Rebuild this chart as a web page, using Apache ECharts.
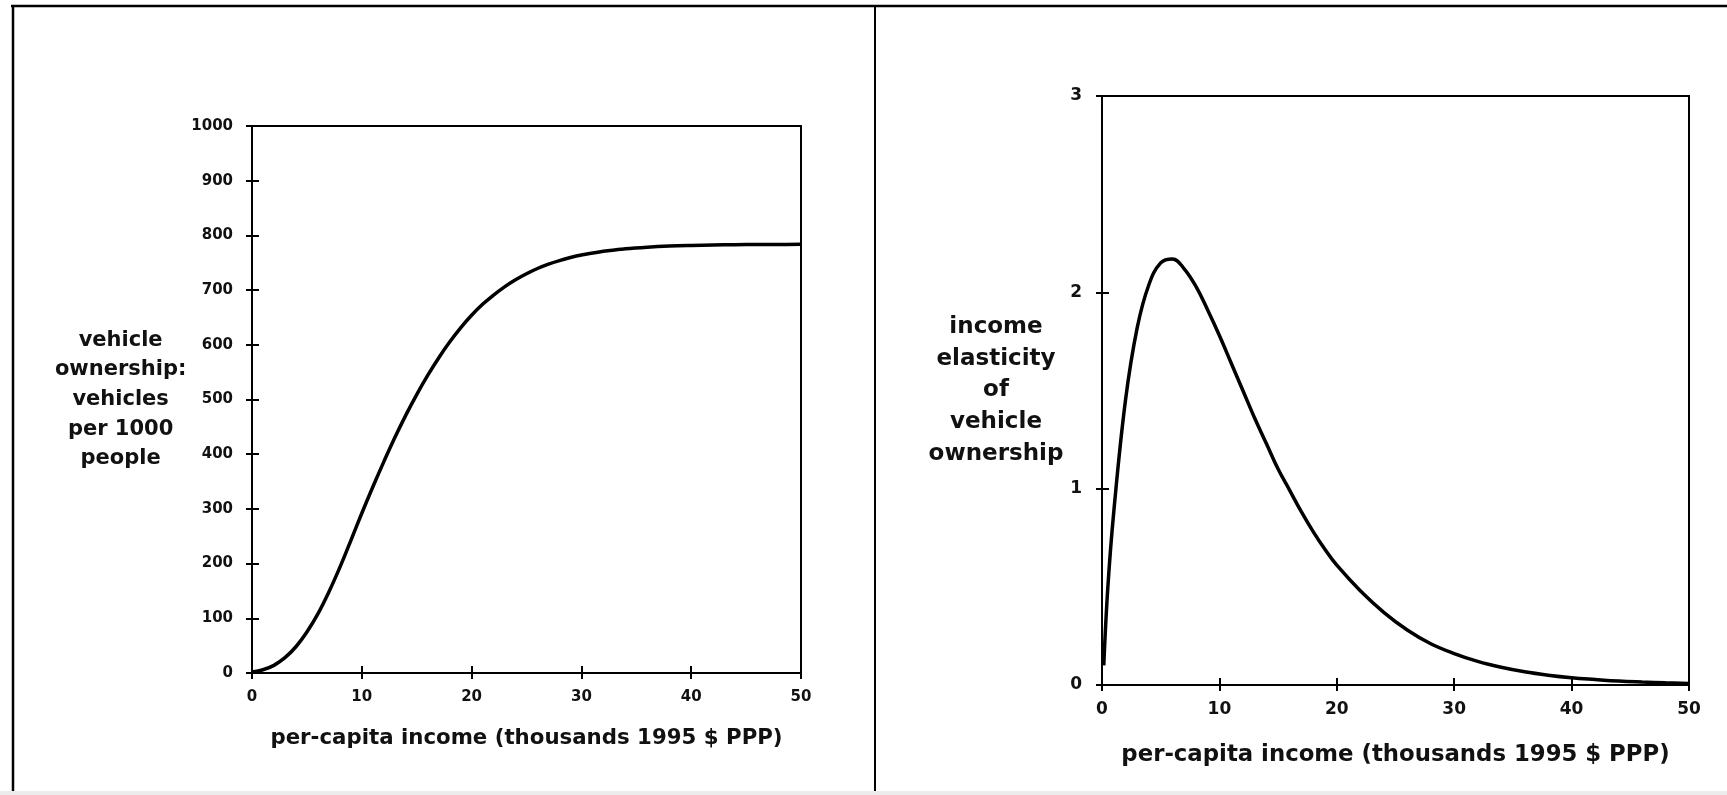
<!DOCTYPE html>
<html>
<head>
<meta charset="utf-8">
<title>vehicle ownership and income elasticity</title>
<script src="https://cdn.jsdelivr.net/npm/echarts@6.0.0/dist/echarts.min.js"></script>
<style>
  html, body { margin: 0; padding: 0; background: #fff; }
  #main { width: 1727px; height: 795px; }
</style>
</head>
<body>
<div id="main"></div>
<script>
// left panel: vehicles per 1000 people vs income
const ownIncome = [0, 1, 2, 3, 4, 5, 6, 7, 8, 9, 10, 11, 12, 13, 14, 15, 16, 17, 18, 19, 20,
  21, 22, 23, 24, 25, 26, 27, 28, 29, 30, 32, 34, 36, 38, 40, 42, 44, 46, 48, 50]
const vehiclesPer1000 = [2, 6, 14, 28, 48, 75, 108, 148, 193, 242, 292, 340, 386, 430, 471, 509, 544, 576, 605, 631, 654,
  674, 691, 706, 719, 730, 739.5, 747.5, 754, 759.5, 764, 771, 775.5, 778.5, 780.5, 781.7, 782.5, 783, 783.3, 783.5, 783.6]

// right panel: income elasticity of vehicle ownership
const elastIncome = [0.15, 0.5, 1, 2, 3, 4, 5, 6, 7, 8, 9, 10, 11, 12, 13, 14, 15, 16, 17, 18, 19, 20,
  22, 24, 26, 28, 30, 32, 34, 36, 38, 40, 42, 44, 46, 48, 50]
const elasticity = [0.1, 0.5, 0.88, 1.45, 1.82, 2.04, 2.15, 2.17, 2.12, 2.03, 1.91, 1.78, 1.64, 1.5, 1.36, 1.23, 1.1, 0.99, 0.88, 0.78, 0.69, 0.61,
  0.48, 0.37, 0.28, 0.21, 0.16, 0.12, 0.09, 0.067, 0.05, 0.037, 0.028, 0.02, 0.015, 0.011, 0.008]

const xAxisName = 'per-capita income (thousands 1995 $ PPP)'
const ownAxisName = 'vehicle\nownership:\nvehicles\nper 1000\npeople'
const elastAxisName = 'income\nelasticity\nof\nvehicle\nownership'

const font = 'DejaVu Sans'
const ink = '#111'
const tickOut = 6 // ticks cross the frame: 6px outside, 7px inside

function pairs (xs, ys) {
  return xs.map((x, i) => [x, ys[i]])
}

// the grid border draws the frame, the axis sits tickOut px outside it
// with inside ticks long enough to cross the frame line
function xAxis (gridIndex, labelSize, nameSize, nameGap, labelMargin) {
  return {
    type: 'value',
    gridIndex: gridIndex,
    min: 0,
    max: 50,
    interval: 10,
    offset: tickOut,
    name: xAxisName,
    nameLocation: 'middle',
    nameGap: nameGap - tickOut,
    nameTextStyle: { fontFamily: font, fontWeight: 'bold', fontSize: nameSize, color: ink, verticalAlign: 'middle' },
    axisLine: { show: false, onZero: false },
    axisTick: { show: true, inside: true, length: 13, lineStyle: { color: '#000', width: 2 } },
    axisLabel: { margin: labelMargin - tickOut, fontFamily: font, fontWeight: 'bold', fontSize: labelSize, color: ink },
    splitLine: { show: false }
  }
}

function yAxis (gridIndex, max, interval, name, nameSize, lineHeight, nameGap, labelSize, labelMargin) {
  return {
    type: 'value',
    gridIndex: gridIndex,
    min: 0,
    max: max,
    interval: interval,
    offset: tickOut,
    name: name,
    nameLocation: 'middle',
    nameRotate: 0,
    nameGap: nameGap - tickOut,
    nameTextStyle: {
      fontFamily: font, fontWeight: 'bold', fontSize: nameSize, color: ink,
      align: 'center', verticalAlign: 'middle', lineHeight: lineHeight
    },
    axisLine: { show: false, onZero: false },
    axisTick: { show: true, inside: true, length: 13, lineStyle: { color: '#000', width: 2 } },
    axisLabel: {
      margin: labelMargin - tickOut, fontFamily: font, fontWeight: 'bold', fontSize: labelSize, color: ink,
      formatter: v => String(v)
    },
    splitLine: { show: false }
  }
}

const chart = echarts.init(document.getElementById('main'))

chart.setOption({
  animation: false,
  backgroundColor: '#fff',
  grid: [
    { left: 252, top: 126, width: 549, height: 547, show: true, borderColor: '#000', borderWidth: 2 },
    { left: 1102, top: 96, width: 587, height: 589, show: true, borderColor: '#000', borderWidth: 2 }
  ],
  xAxis: [
    xAxis(0, 15, 21.3, 65, 17),
    xAxis(1, 17, 22.8, 70, 16)
  ],
  yAxis: [
    yAxis(0, 1000, 100, ownAxisName, 21, 29.7, 123, 15, 19),
    yAxis(1, 3, 1, elastAxisName, 23, 31.7, 106, 17, 20)
  ],
  series: [{
    type: 'line',
    xAxisIndex: 0,
    yAxisIndex: 0,
    data: pairs(ownIncome, vehiclesPer1000),
    smooth: 0.4,
    showSymbol: false,
    lineStyle: { color: '#000', width: 3.5 }
  }, {
    type: 'line',
    xAxisIndex: 1,
    yAxisIndex: 1,
    data: pairs(elastIncome, elasticity),
    smooth: 0.4,
    showSymbol: false,
    lineStyle: { color: '#000', width: 3.5 }
  }],
  // outer figure frame
  graphic: [
    { type: 'line', shape: { x1: 11, y1: 6, x2: 1727, y2: 6 }, style: { stroke: '#000', lineWidth: 2.5 } },
    { type: 'line', shape: { x1: 13, y1: 6, x2: 13, y2: 795 }, style: { stroke: '#000', lineWidth: 2.5 } },
    { type: 'line', shape: { x1: 875, y1: 6, x2: 875, y2: 795 }, style: { stroke: '#000', lineWidth: 2 } },
    { type: 'rect', shape: { x: 0, y: 791, width: 1727, height: 4 }, style: { fill: '#ececec' } }
  ]
})
</script>
</body>
</html>
